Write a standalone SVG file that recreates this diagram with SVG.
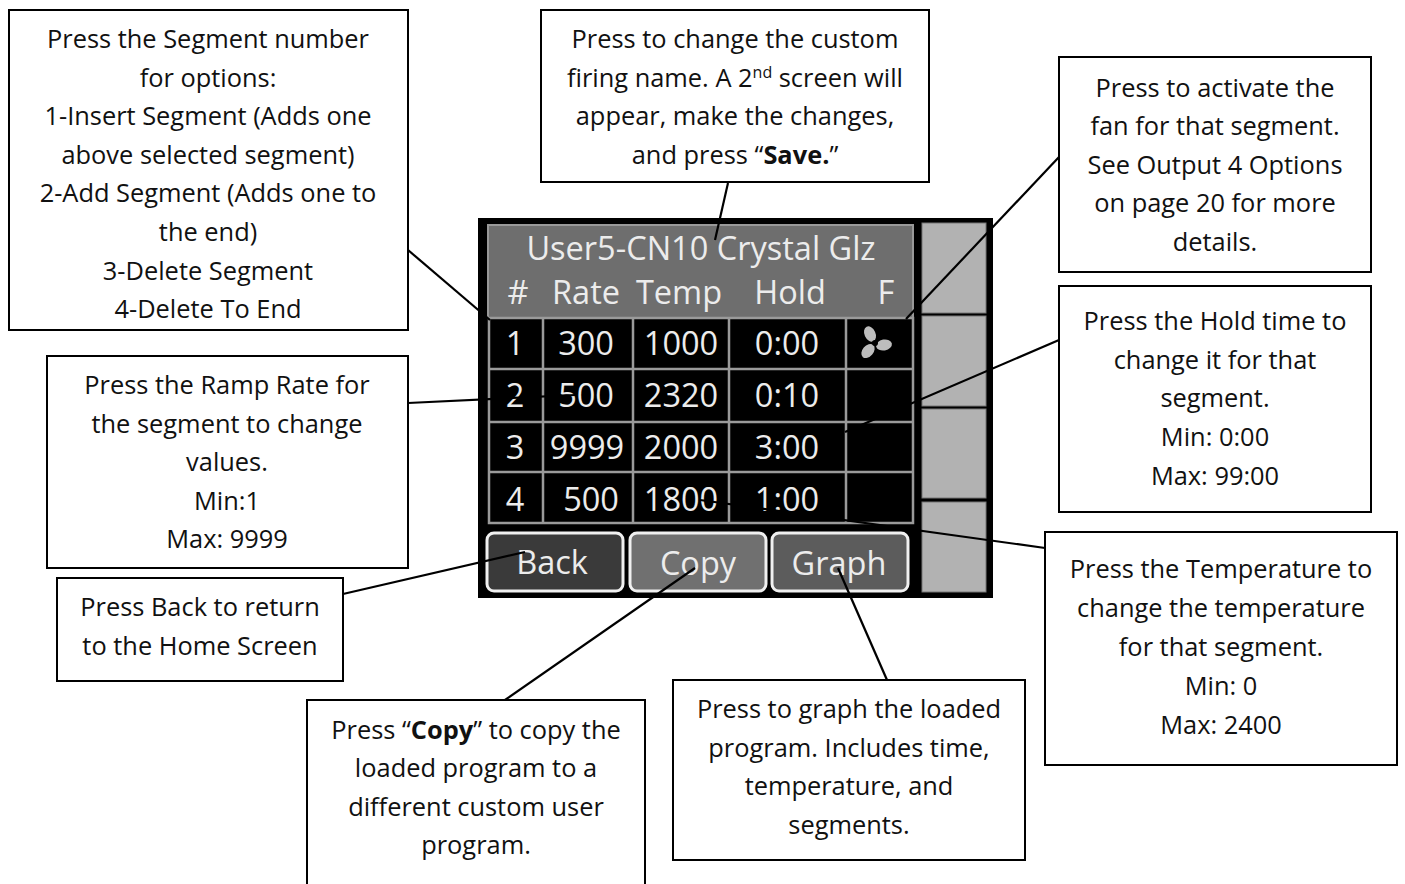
<svg xmlns="http://www.w3.org/2000/svg" width="1405" height="884" viewBox="0 0 1405 884">
<style>
.box{fill:#fff;stroke:#000;stroke-width:2}
.t{font-family:"Open Sans","Noto Sans",sans-serif;font-size:25.4px;fill:#111;text-anchor:middle}
.s{font-family:"Open Sans","Noto Sans",sans-serif;font-size:32.5px;fill:#ececec;text-anchor:middle}
.g{stroke:#9a9a9a;stroke-width:2.5;fill:none}
.p{fill:#b2b2b2;stroke:#777;stroke-width:1}
.btn{stroke:#f0f0f0;stroke-width:3}
.c{stroke:#000;stroke-width:2.2;fill:none}
</style>
<rect width="1405" height="884" fill="#fff"/>
<g id="screen">
<rect x="478" y="218" width="515" height="380" fill="#000"/>
<rect x="488" y="225" width="425" height="93" fill="#6e6e6e" stroke="#999" stroke-width="2"/>
<rect x="489" y="318" width="424" height="205" fill="#000"/>
<path class="g" d="M489 318H913V523H489ZM489 369H913M489 422H913M489 472H913M543 318V523M633 318V523M729 318V523M846 318V523"/>
<rect class="p" x="922" y="223" width="64" height="90"/>
<rect class="p" x="922" y="316" width="64" height="90"/>
<rect class="p" x="922" y="409" width="64" height="89"/>
<rect class="p" x="922" y="502" width="64" height="90"/>
<rect class="btn" x="487" y="533" width="136" height="58" rx="7" fill="#3a3a3a"/>
<rect class="btn" x="630" y="533" width="136" height="58" rx="7" fill="#707070"/>
<rect class="btn" x="772" y="533" width="136" height="58" rx="7" fill="#5c5c5c"/>
<text class="s" x="701" y="260">User5-CN10 Crystal Glz</text>
<text class="s" x="518" y="304">#</text><text class="s" x="586" y="304">Rate</text><text class="s" x="679" y="304">Temp</text><text class="s" x="790" y="304">Hold</text><text class="s" x="886" y="304">F</text>
<text class="s" x="515" y="355">1</text><text class="s" x="586" y="355">300</text><text class="s" x="681" y="355">1000</text><text class="s" x="787" y="355">0:00</text>
<text class="s" x="515" y="407">2</text><text class="s" x="586" y="407">500</text><text class="s" x="681" y="407">2320</text><text class="s" x="787" y="407">0:10</text>
<text class="s" x="515" y="459">3</text><text class="s" x="587" y="459">9999</text><text class="s" x="681" y="459">2000</text><text class="s" x="787" y="459">3:00</text>
<text class="s" x="515" y="511">4</text><text class="s" x="591" y="511">500</text><text class="s" x="681" y="511">1800</text><text class="s" x="787" y="511">1:00</text>
<text class="s" x="552" y="574">Back</text><text class="s" x="698" y="575">Copy</text><text class="s" x="839" y="575">Graph</text>
<g id="fan-icon" fill="#bdbdbd"><ellipse cx="870" cy="334" rx="5.5" ry="8" transform="rotate(-25 870 334)"/><ellipse cx="884" cy="345" rx="5.5" ry="8" transform="rotate(80 884 345)"/><ellipse cx="868" cy="351" rx="5.5" ry="8" transform="rotate(40 868 351)"/><circle cx="875" cy="343" r="3" fill="#000"/></g>
</g>
<g id="connectors">
<path class="c" d="M408 250L490 320"/>
<path class="c" d="M728 183L715 240"/>
<path class="c" d="M1059 157L906 319"/>
<path class="c" d="M1059 340L845 432"/>
<path class="c" d="M1045 548L700 500"/>
<path class="c" d="M408 403L575 395"/>
<path class="c" d="M343 594L525 552"/>
<path class="c" d="M505 700L695 568"/>
<path class="c" d="M887 680L838 568"/>
</g>
<g id="segment-note"><rect class="box" x="9" y="10" width="399" height="320"/>
<text class="t" x="208" y="48">Press the Segment number</text><text class="t" x="208" y="87">for options:</text><text class="t" x="208" y="125">1-Insert Segment (Adds one</text><text class="t" x="208" y="164">above selected segment)</text><text class="t" x="208" y="202">2-Add Segment (Adds one to</text><text class="t" x="208" y="241">the end)</text><text class="t" x="208" y="280">3-Delete Segment</text><text class="t" x="208" y="318">4-Delete To End</text></g>
<g id="name-note"><rect class="box" x="541" y="10" width="388" height="172"/>
<text class="t" x="735" y="48">Press to change the custom</text><text class="t" x="735" y="87">firing name. A 2<tspan font-size="16" dy="-9">nd</tspan><tspan dy="9"> screen will</tspan></text><text class="t" x="735" y="125">appear, make the changes,</text><text class="t" x="735" y="164">and press “<tspan font-weight="700">Save.</tspan>”</text></g>
<g id="fan-note"><rect class="box" x="1059" y="57" width="312" height="215"/>
<text class="t" x="1215" y="97">Press to activate the</text><text class="t" x="1215" y="135">fan for that segment.</text><text class="t" x="1215" y="174">See Output 4 Options</text><text class="t" x="1215" y="212">on page 20 for more</text><text class="t" x="1215" y="251">details.</text></g>
<g id="hold-note"><rect class="box" x="1059" y="286" width="312" height="226"/>
<text class="t" x="1215" y="330">Press the Hold time to</text><text class="t" x="1215" y="369">change it for that</text><text class="t" x="1215" y="407">segment.</text><text class="t" x="1215" y="446">Min: 0:00</text><text class="t" x="1215" y="485">Max: 99:00</text></g>
<g id="temp-note"><rect class="box" x="1045" y="532" width="352" height="233"/>
<text class="t" x="1221" y="578">Press the Temperature to</text><text class="t" x="1221" y="617">change the temperature</text><text class="t" x="1221" y="656">for that segment.</text><text class="t" x="1221" y="695">Min: 0</text><text class="t" x="1221" y="734">Max: 2400</text></g>
<g id="ramp-note"><rect class="box" x="47" y="356" width="361" height="212"/>
<text class="t" x="227" y="394">Press the Ramp Rate for</text><text class="t" x="227" y="433">the segment to change</text><text class="t" x="227" y="471">values.</text><text class="t" x="227" y="510">Min:1</text><text class="t" x="227" y="548">Max: 9999</text></g>
<g id="back-note"><rect class="box" x="57" y="578" width="286" height="103"/>
<text class="t" x="200" y="616">Press Back to return</text><text class="t" x="200" y="655">to the Home Screen</text></g>
<g id="copy-note"><rect class="box" x="307" y="700" width="338" height="190"/>
<text class="t" x="476" y="739">Press “<tspan font-weight="700">Copy</tspan>” to copy the</text><text class="t" x="476" y="777">loaded program to a</text><text class="t" x="476" y="816">different custom user</text><text class="t" x="476" y="854">program.</text></g>
<g id="graph-note"><rect class="box" x="673" y="680" width="352" height="180"/>
<text class="t" x="849" y="718">Press to graph the loaded</text><text class="t" x="849" y="757">program. Includes time,</text><text class="t" x="849" y="795">temperature, and</text><text class="t" x="849" y="834">segments.</text></g>
</svg>
